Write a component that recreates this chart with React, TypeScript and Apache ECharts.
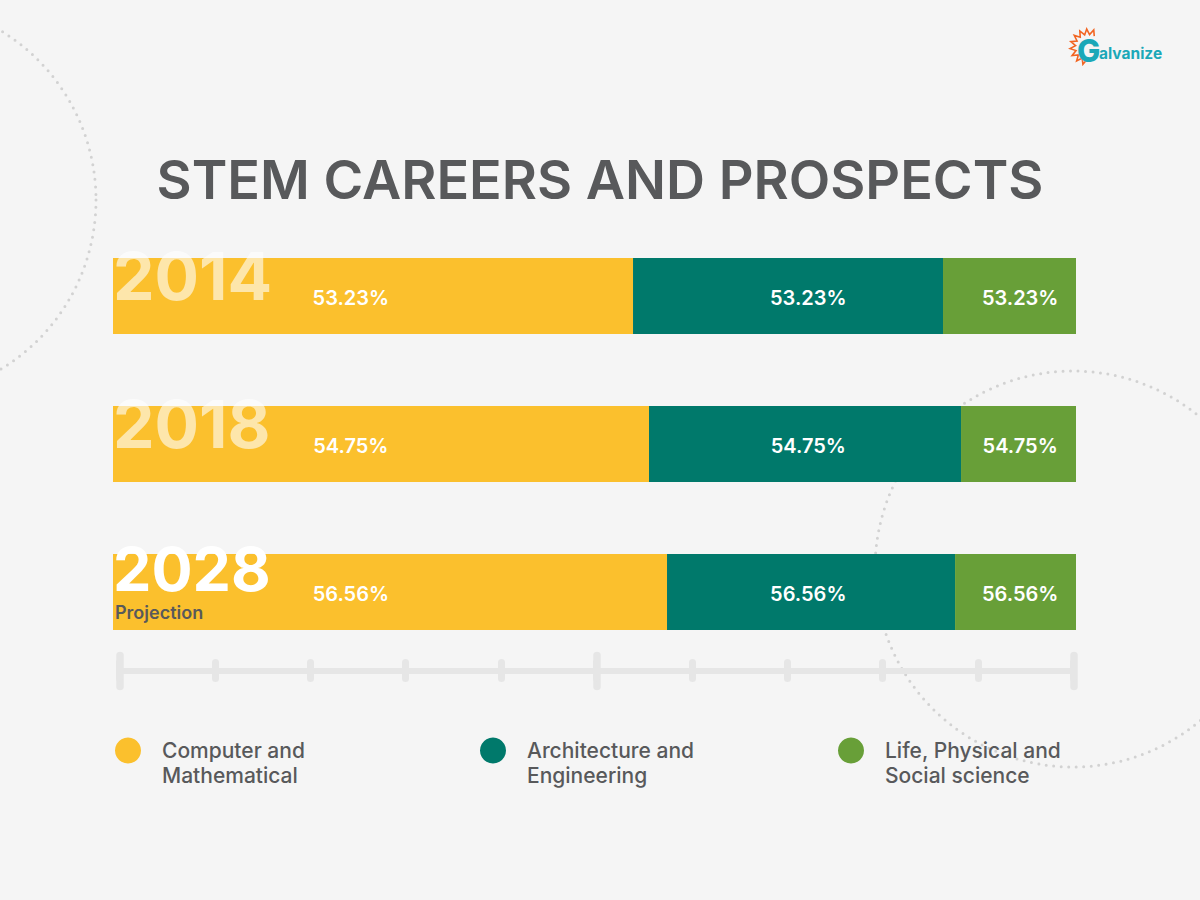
import React, { useEffect, useRef } from "react";
import * as echarts from "echarts";

// ---- data ----
const categories = ["2014", "2018", "2028"];
const seriesNames = [
  "Computer and Mathematical",
  "Architecture and Engineering",
  "Life, Physical and Social science",
];
const legendLabels = [
  "Computer and\nMathematical",
  "Architecture and\nEngineering",
  "Life, Physical and\nSocial science",
];
const computerMath = [54.0, 55.66, 57.53];
const archEng = [32.19, 32.4, 29.91];
const lifeSci = [13.81, 11.94, 12.56];
const rowLabels = ["53.23%", "54.75%", "56.56%"];
const projectedYear = "2028";
const projectionNote = "Projection";
const titleText = "STEM CAREERS AND PROSPECTS";

const FONT = "Inter, 'Open Sans', sans-serif";
const COLORS = ["#FBC02D", "#00796B", "#689F38"];

export default function App() {
  const ref = useRef<HTMLDivElement>(null);

  useEffect(() => {
    if (!ref.current) return;
    const chart = echarts.init(ref.current, null, { renderer: "svg" });

    const gridLeft = 113;
    const gridRight = 124;
    const plotWidth = 1200 - gridLeft - gridRight;
    const pxPerUnit = plotWidth / 100;
    // fixed label anchors (axis units) for each series
    const labelAnchors = [24.7, 72.2, 94.2];
    const allSeries = [computerMath, archEng, lifeSci];

    const series: any[] = allSeries.map((vals, s) => ({
      type: "bar",
      name: seriesNames[s],
      stack: "total",
      barWidth: 76,
      xAxisIndex: 0,
      yAxisIndex: 0,
      itemStyle: { color: COLORS[s] },
      label: {
        show: true,
        position: "inside",
        color: "#ffffff",
        fontFamily: FONT,
        fontSize: 20,
        fontWeight: 600,
        formatter: (p: any) => rowLabels[p.dataIndex],
      },
      data: vals.map((v, i) => {
        let start = 0;
        for (let k = 0; k < s; k++) start += allSeries[k][i];
        const center = start + v / 2;
        return { value: v, label: { offset: [(labelAnchors[s] - center) * pxPerUnit, 2] } };
      }),
    }));

    // ruler series placeholders (empty) so grids render
    series.push({ type: "line", xAxisIndex: 1, yAxisIndex: 1, data: [], silent: true });
    series.push({ type: "line", xAxisIndex: 2, yAxisIndex: 2, data: [], silent: true });

    // logo sunburst points
    const sunPts: number[][] = [];
    const cx = 1088, cy = 47, rOut = 18, rIn = 12.5;
    const a0 = 95, a1 = 300, spikes = 9;
    for (let k = 0; k <= spikes * 2; k++) {
      const a = ((a0 + ((a1 - a0) * k) / (spikes * 2)) * Math.PI) / 180;
      const r = k % 2 === 1 ? rOut : rIn;
      sunPts.push([cx + r * Math.cos(a), cy + r * Math.sin(a)]);
    }

    const option: any = {
      animation: false,
      backgroundColor: "#f5f5f5",
      title: {
        text: titleText,
        left: "center",
        top: 147,
        textStyle: { fontFamily: FONT, fontSize: 54, fontWeight: 600, color: "#58595b" },
      },
      graphic: [
        {
          type: "circle",
          silent: true,
          z: -10,
          shape: { cx: -102, cy: 200, r: 198 },
          style: { fill: "none", stroke: "#d2d2d2", lineWidth: 3, lineDash: [0, 7.5], lineCap: "round" },
        },
        {
          type: "circle",
          silent: true,
          z: -10,
          shape: { cx: 1073, cy: 569, r: 198 },
          style: { fill: "none", stroke: "#d2d2d2", lineWidth: 3, lineDash: [0, 7.5], lineCap: "round" },
        },
        {
          type: "polyline",
          silent: true,
          shape: { points: sunPts },
          style: { fill: "none", stroke: "#f26522", lineWidth: 1.6 },
        },
        {
          type: "text",
          silent: true,
          x: 1077,
          y: 50,
          style: {
            text: "G",
            fontFamily: FONT,
            fontSize: 31,
            fontWeight: 800,
            fill: "#1ba8b8",
            verticalAlign: "middle",
          },
        },
        {
          type: "text",
          silent: true,
          x: 1099,
          y: 53,
          style: {
            text: "alvanize",
            fontFamily: FONT,
            fontSize: 15.5,
            fontWeight: 700,
            fill: "#1ba8b8",
            verticalAlign: "middle",
          },
        },
      ],
      legend: seriesNames.map((n, i) => ({
        data: [n],
        left: [115, 480, 838][i],
        top: 713,
        padding: 0,
        icon: "circle",
        itemWidth: 26,
        itemHeight: 26,
        selectedMode: false,
        formatter: () => " \n" + legendLabels[i],
        textStyle: {
          fontFamily: FONT,
          fontSize: 21,
          fontWeight: 500,
          color: "#58595b",
          lineHeight: 25,
          padding: [0, 0, 0, 16],
        },
      })),
      grid: [
        { left: gridLeft, right: gridRight, top: 222, height: 444 },
        { left: 119.5, right: 126.5, top: 655.5, height: 31 },
        { left: 119.5, right: 126.5, top: 662.5, height: 16 },
      ],
      xAxis: [
        { type: "value", gridIndex: 0, min: 0, max: 100, show: false },
        {
          type: "value",
          gridIndex: 1,
          min: 0,
          max: 100,
          interval: 50,
          axisLine: { show: true, onZero: true, lineStyle: { color: "#e6e6e6", width: 6 } },
          axisTick: { show: false },
          axisLabel: { show: false },
          splitLine: { show: true, lineStyle: { color: "#e6e6e6", width: 7.5, cap: "round" } },
        },
        {
          type: "value",
          gridIndex: 2,
          min: 0,
          max: 100,
          interval: 10,
          axisLine: { show: false },
          axisTick: { show: false },
          axisLabel: { show: false },
          splitLine: { show: true, lineStyle: { color: "#e6e6e6", width: 7, cap: "round" } },
        },
      ],
      yAxis: [
        {
          type: "category",
          gridIndex: 0,
          data: categories,
          inverse: true,
          z: 10,
          axisLine: { show: false },
          axisTick: { show: false },
          splitLine: { show: false },
          axisLabel: {
            inside: true,
            margin: 0,
            align: "left",
            formatter: (v: string) =>
              v === projectedYear ? `{big|${v}}\n{proj|${projectionNote}}` : `{fade|${v}}`,
            rich: {
              fade: {
                fontFamily: FONT,
                fontSize: 66,
                fontWeight: 700,
                color: "rgba(255,255,255,0.6)",
                lineHeight: 66,
                padding: [0, 0, 40, 0],
              },
              big: {
                fontFamily: FONT,
                fontSize: 61,
                fontWeight: 700,
                color: "#ffffff",
                lineHeight: 40,
              },
              proj: {
                fontFamily: FONT,
                fontSize: 18,
                fontWeight: 600,
                color: "#58595b",
                lineHeight: 46,
                padding: [0, 0, 0, 2],
              },
            },
          },
        },
        { type: "value", gridIndex: 1, min: -1, max: 1, show: false },
        { type: "value", gridIndex: 2, min: -1, max: 1, show: false },
      ],
      series,
    };

    chart.setOption(option);
    return () => chart.dispose();
  }, []);

  return (
    <div
      ref={ref}
      style={{ position: "absolute", left: 0, top: 0, width: 1200, height: 900 }}
    />
  );
}
